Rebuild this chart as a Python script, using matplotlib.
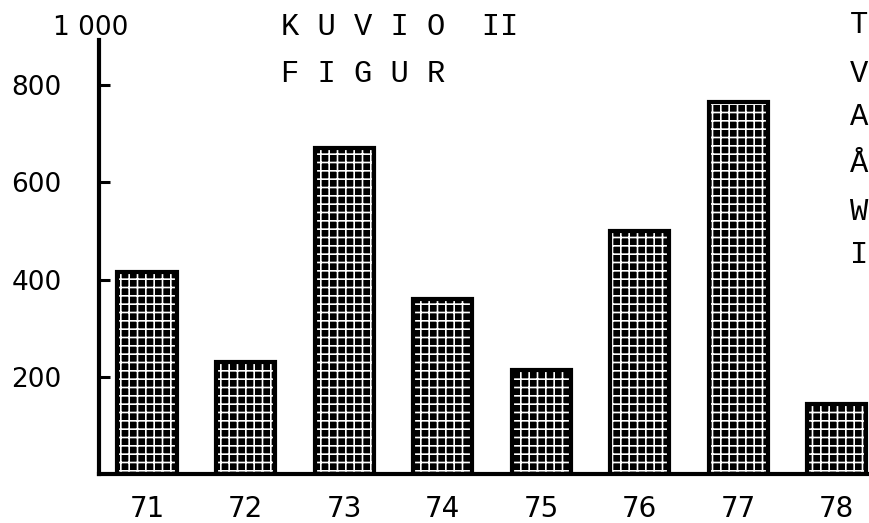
import matplotlib
matplotlib.use("Agg")
import matplotlib.pyplot as plt
import numpy as np

# Data
years = ["71", "72", "73", "74", "75", "76", "77", "78"]
values = [415, 230, 670, 360, 215, 500, 765, 145]
ytick_values = [200, 400, 600, 800]
ytick_labels = ["200", "400", "600", "800"]
top_label = "1 000"
title_lines = ["K U V I O  II", "F I G U R"]
side_letters = ["T", "V", "A", "Å", "W", "I"]

plt.rcParams["hatch.linewidth"] = 1.2
plt.rcParams["font.family"] = ["DejaVu Sans"]

fig = plt.figure(figsize=(8.69, 5.23), dpi=100)
W, H = 869.0, 523.0
ax = fig.add_axes([99 / W, 1 - 474 / H, 1 - 99 / W, (474 - 40) / H])

x = np.arange(len(years))
ax.bar(x, values, width=0.6, color="black", edgecolor="white", hatch="++",
       linewidth=0, zorder=2)
ax.bar(x, values, width=0.6, fill=False, edgecolor="black", linewidth=3,
       zorder=3)

ax.set_xlim(-0.487, 7.326)
ax.set_ylim(0, 893)

for s in ["top", "right"]:
    ax.spines[s].set_visible(False)
for s in ["left", "bottom"]:
    ax.spines[s].set_linewidth(3)
    ax.spines[s].set_capstyle("projecting")

ax.set_yticks(ytick_values)
ax.set_yticklabels(ytick_labels, fontsize=19)
ax.tick_params(axis="y", direction="in", length=8, width=2.2, pad=27)
ax.set_xticks(x)
ax.set_xticklabels(years, fontsize=20)
ax.tick_params(axis="x", length=0, pad=15)

# top value label
fig.text(91 / W, 1 - 35 / H, top_label, fontsize=19, ha="center", va="baseline")

# title (typewriter)
mono = "Liberation Mono"
fig.text(281 / W, 1 - 35 / H, title_lines[0], fontsize=22, family=mono,
         ha="left", va="baseline")
fig.text(281 / W, 1 - 82 / H, title_lines[1], fontsize=22, family=mono,
         ha="left", va="baseline")

side_y = [33, 82, 125, 172, 220, 263]
for letter, yy in zip(side_letters, side_y):
    fig.text(850 / W, 1 - yy / H, letter, fontsize=22, family=mono,
             ha="left", va="baseline")

fig.savefig("out.png", dpi=100)
